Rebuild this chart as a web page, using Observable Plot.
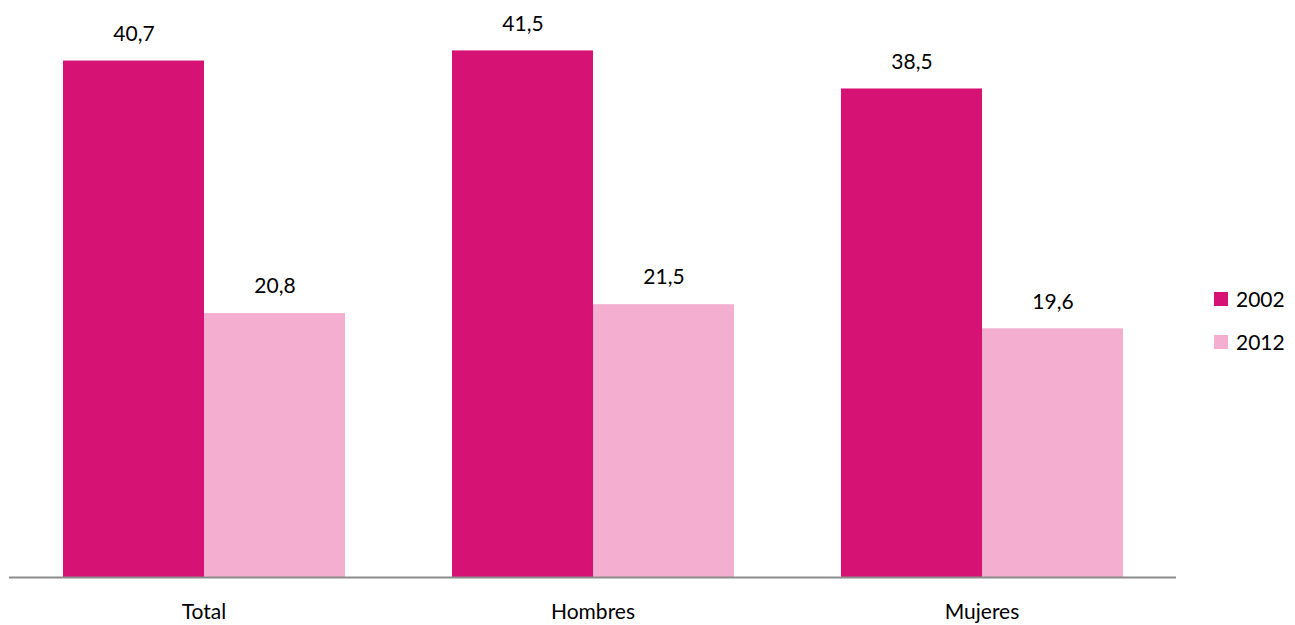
<!DOCTYPE html>
<html>
<head>
<meta charset="utf-8">
<script src="https://cdn.jsdelivr.net/npm/d3@7"></script>
<script src="https://cdn.jsdelivr.net/npm/@observablehq/plot@0.6"></script>
<style>
  body { margin: 0; background: #fff; font-family: Lato, "Open Sans", sans-serif; }
  #wrap { position: relative; width: 1295px; height: 625px; }
  #legend { position: absolute; left: 1214px; top: 277px; font-size: 21px; color: #000; }
  .item { display: flex; align-items: center; height: 43px; }
  .sw { width: 14px; height: 14px; margin-right: 8px; }
</style>
</head>
<body>
<div id="wrap">
  <div id="chart"></div>
  <div id="legend"></div>
</div>
<script>
const categories = ["Total", "Hombres", "Mujeres"];
const years = ["2002", "2012"];
const values2002 = [40.7, 41.5, 38.5];
const values2012 = [20.8, 21.5, 19.6];
const colors = ["#D71275", "#F4AECF"];

const data = [];
categories.forEach((c, i) => {
  data.push({cat: c, year: years[0], value: values2002[i]});
  data.push({cat: c, year: years[1], value: values2012[i]});
});
const fmt = v => v.toFixed(1).replace(".", ",");

const chart = Plot.plot({
  width: 1295,
  height: 625,
  marginLeft: 8,
  marginRight: 118,
  marginTop: 6,
  marginBottom: 48,
  style: {fontFamily: "Lato, 'Open Sans', sans-serif", fontSize: "21px", color: "#000", background: "#fff"},
  fx: {domain: categories, padding: 0, label: null, axis: null},
  x: {domain: years, paddingInner: 0, paddingOuter: 0.377, axis: null},
  y: {domain: [0, 45], axis: null},
  color: {domain: years, range: colors},
  marks: [
    Plot.axisFx({anchor: "bottom", tickSize: 0, tickPadding: 27, fontSize: 21, label: null, fill: "#000"}),
    Plot.barY(data, {fx: "cat", x: "year", y: "value", fill: "year"}),
    Plot.text(data, {fx: "cat", x: "year", y: "value", text: d => fmt(d.value), dy: -27, fontSize: 21, fill: "#000"}),
    Plot.ruleY([0], {stroke: "#8c8c8c", strokeWidth: 2})
  ]
});
document.getElementById("chart").appendChild(chart);

const legend = document.getElementById("legend");
years.forEach((y, i) => {
  const it = document.createElement("div");
  it.className = "item";
  it.innerHTML = `<span class="sw" style="background:${colors[i]}"></span><span>${y}</span>`;
  legend.appendChild(it);
});
</script>
</body>
</html>
